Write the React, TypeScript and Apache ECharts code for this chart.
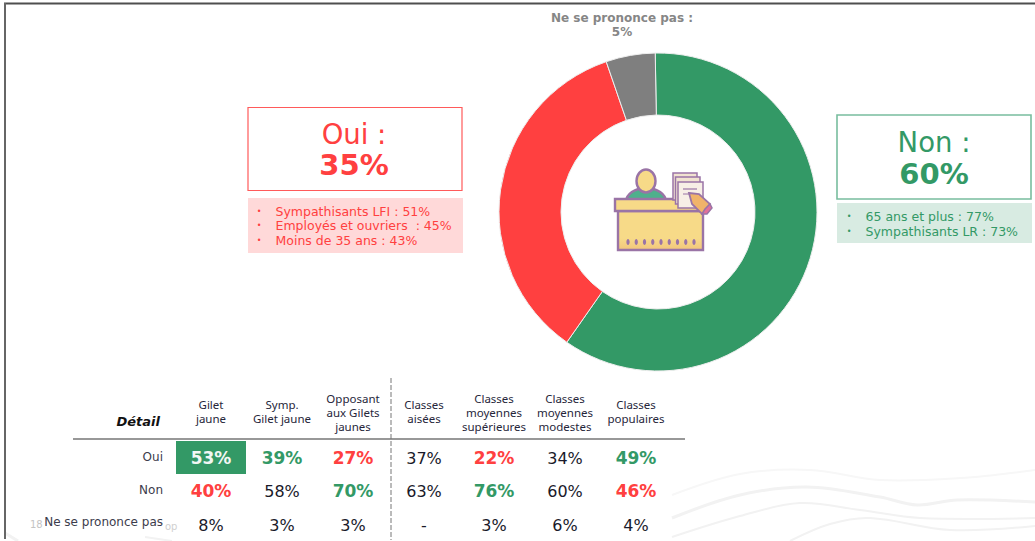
import React, { useEffect, useRef } from "react";
import * as echarts from "echarts";

const GREEN = "#339966";
const RED = "#ff4040";
const GREY = "#7f7f7f";
const INK = "#1a1a2a";

const sliceNames = ["Non", "Oui", "Ne se prononce pas"];
const sliceValues = [60, 35, 5];
const sliceColors = [GREEN, RED, GREY];

const ouiDetails = ["Sympathisants LFI : 51%", "Employés et ouvriers  : 45%", "Moins de 35 ans : 43%"];
const nonDetails = ["65 ans et plus : 77%", "Sympathisants LR : 73%"];

const columnHeaders = [
  ["Gilet", "jaune"],
  ["Symp.", "Gilet jaune"],
  ["Opposant", "aux Gilets", "jaunes"],
  ["Classes", "aisées"],
  ["Classes", "moyennes", "supérieures"],
  ["Classes", "moyennes", "modestes"],
  ["Classes", "populaires"],
];
const rowLabels = ["Oui", "Non", "Ne se prononce pas"];
const ouiRow = ["53%", "39%", "27%", "37%", "22%", "34%", "49%"];
const nonRow = ["40%", "58%", "70%", "63%", "76%", "60%", "46%"];
const npRow = ["8%", "3%", "3%", "-", "3%", "6%", "4%"];
// g = vert, r = rouge, w = blanc sur vert, n = neutre
const ouiTone = ["w", "g", "r", "n", "r", "n", "g"];
const nonTone = ["r", "n", "g", "n", "g", "n", "r"];
const npTone = ["n", "n", "n", "n", "n", "n", "n"];

const colX = [211, 282, 353, 424, 494, 565, 636];
const rowY = [458, 491, 525];
const SANS = '"DejaVu Sans"';
const HEAD = '"Noto Sans"';

function txt(text: string, x: number, y: number, fontSize: number, fill: string, opts: any = {}) {
  return {
    type: "text",
    silent: true,
    z: opts.z ?? 10,
    style: {
      text,
      x,
      y,
      fontSize,
      fill,
      fontFamily: opts.family ?? SANS,
      fontWeight: opts.weight ?? "normal",
      fontStyle: opts.italic ? "italic" : "normal",
      align: opts.align ?? "center",
      verticalAlign: "middle",
    },
  };
}

function wave(points: number[][], width: number, color = "#f2f2f2") {
  return {
    type: "polyline",
    silent: true,
    z: 1,
    shape: { points, smooth: 0.35 },
    style: { stroke: color, lineWidth: width, fill: "none" },
  };
}

function buildIcon() {
  const P = "#9a74a6";
  const Y = "#f7da88";
  const sw = 2.4;
  const r = (x: number, y: number, w: number, h: number, fill: any, lw = sw, stroke = P) => ({
    type: "rect", silent: true, z: 10,
    shape: { x, y, width: w, height: h },
    style: { fill, stroke, lineWidth: lw },
  });
  const dots = [628, 636.25, 644.5, 652.75, 661, 669.25, 677.5, 685.75, 694].map((x) => ({
    type: "ellipse", silent: true, z: 11,
    shape: { cx: x, cy: 242, rx: 1.6, ry: 3 },
    style: { fill: P },
  }));
  return [
    { type: "ellipse", silent: true, z: 10,
      shape: { cx: 646, cy: 202, rx: 20, ry: 14 },
      style: { fill: "#4fb08c", stroke: P, lineWidth: sw } },
    { type: "ellipse", silent: true, z: 11,
      shape: { cx: 646, cy: 181, rx: 9.5, ry: 11.5 },
      style: { fill: Y, stroke: P, lineWidth: sw } },
    r(618, 211, 85, 39, new echarts.graphic.LinearGradient(0, 0, 0, 1, [
      { offset: 0, color: Y }, { offset: 0.7, color: Y }, { offset: 1, color: "#f2c67c" },
    ])),
    r(615, 199, 86, 12, Y),
    r(673, 173, 24, 27, "#f1e3d0", 1.5),
    r(675.5, 177, 24.5, 27, "#f1e3d0", 1.5),
    r(678, 182, 25, 26, "#f7efe6", 1.5),
    { type: "line", silent: true, z: 11, shape: { x1: 683, y1: 189, x2: 697, y2: 189 }, style: { stroke: P, lineWidth: 1.2 } },
    { type: "line", silent: true, z: 11, shape: { x1: 683, y1: 194, x2: 690, y2: 194 }, style: { stroke: P, lineWidth: 1 } },
    ...dots,
    { type: "polygon", silent: true, z: 12,
      shape: { points: [[689, 193], [699, 194], [710, 204], [702, 214], [692, 204]] },
      style: { fill: "#f0b36a", stroke: P, lineWidth: 1.8 } },
    { type: "polygon", silent: true, z: 13,
      shape: { points: [[705, 209], [710, 204], [712, 208], [707, 214], [702, 214]] },
      style: { fill: "#e2709a", stroke: P, lineWidth: 1.5 } },
  ];
}

function buildGraphic() {
  const els: any[] = [];
  // fond : vagues
  els.push(wave([[672, 495], [740, 474], [810, 470], [880, 480], [960, 478], [1035, 470]], 2, "#f7f7f7"));
  els.push(wave([[672, 518], [740, 495], [807, 487], [880, 497], [917, 505], [957, 500], [1035, 502]], 3));
  els.push(wave([[672, 537], [740, 516], [800, 503], [860, 510], [920, 518], [1035, 518]], 2));
  els.push(wave([[790, 541], [830, 524], [870, 518], [950, 530], [1035, 526]], 2));
  els.push(wave([[5, 533], [18, 541]], 3));
  els.push(wave([[145, 537], [172, 541]], 2));
  // cadre
  els.push({ type: "line", silent: true, z: 2, shape: { x1: 4, y1: 3.5, x2: 1035, y2: 3.5 }, style: { stroke: "#4f4f4f", lineWidth: 1.8 } });
  els.push({ type: "line", silent: true, z: 2, shape: { x1: 5, y1: 3, x2: 5, y2: 539 }, style: { stroke: "#666", lineWidth: 2 } });

  // encadré Oui
  els.push({ type: "rect", silent: true, z: 5, shape: { x: 248, y: 107.5, width: 214, height: 83 }, style: { fill: "#fff", stroke: "#ff5a5a", lineWidth: 1.2 } });
  els.push(txt("Oui :", 354, 134, 27.5, RED));
  els.push(txt("35%", 354, 165, 29, RED, { weight: "bold" }));
  els.push({ type: "rect", silent: true, z: 5, shape: { x: 248, y: 198, width: 215, height: 55 }, style: { fill: "#ffd9d9" } });
  ouiDetails.forEach((t, i) => {
    const y = 211 + i * 14.5;
    els.push(txt("•", 259, y, 8, RED));
    els.push(txt(t, 275.5, y, 12.5, RED, { align: "left" }));
  });

  // encadré Non
  els.push({ type: "rect", silent: true, z: 5, shape: { x: 837, y: 115, width: 194, height: 84 }, style: { fill: "#fff", stroke: "#78bd9e", lineWidth: 1.6 } });
  els.push(txt("Non :", 934, 142, 27.5, GREEN));
  els.push(txt("60%", 934, 174, 29, GREEN, { weight: "bold" }));
  els.push({ type: "rect", silent: true, z: 5, shape: { x: 837, y: 203, width: 195, height: 40 }, style: { fill: "#d8ebe2" } });
  nonDetails.forEach((t, i) => {
    const y = 216 + i * 15;
    els.push(txt("•", 849, y, 8, GREEN));
    els.push(txt(t, 865.5, y, 12.5, GREEN, { align: "left" }));
  });

  els.push(...buildIcon());

  // tableau
  els.push(txt("Détail", 160, 421, 13, "#111", { weight: "bold", italic: true, align: "right" }));
  columnHeaders.forEach((lines, c) => {
    const y0 = lines.length === 3 ? 398 : 404.5;
    lines.forEach((l, i) => els.push(txt(l, colX[c], y0 + i * 14, 11.5, "#26263a", { family: HEAD })));
  });
  els.push({ type: "line", silent: true, z: 6, shape: { x1: 73, y1: 439, x2: 685, y2: 439 }, style: { stroke: "#333", lineWidth: 1.2 } });
  els.push({ type: "line", silent: true, z: 6, shape: { x1: 391, y1: 378, x2: 391, y2: 540 }, style: { stroke: "#777", lineWidth: 1, lineDash: [5, 2] } });
  els.push({ type: "rect", silent: true, z: 6, shape: { x: 176, y: 441, width: 70, height: 33 }, style: { fill: GREEN } });
  const toneColor: Record<string, string> = { g: GREEN, r: RED, w: "#f2f7f4", n: INK };
  [ouiRow, nonRow, npRow].forEach((row, r) => {
    const tones = [ouiTone, nonTone, npTone][r];
    els.push(txt(rowLabels[r], 163, rowY[r] - (r === 2 ? 3 : 1), 12, "#3c3c4c", { align: "right" }));
    row.forEach((v, c) => {
      const tone = tones[c];
      els.push(txt(v, colX[c], rowY[r], tone === "n" ? 16 : 17, toneColor[tone], { weight: tone === "n" ? "normal" : "bold" }));
    });
  });
  els.push(txt("18", 30, 524, 10, "#c4c4c4", { align: "left", z: 3 }));
  els.push(txt("op", 165, 526, 10, "#d0d0d0", { align: "left", z: 3 }));
  return els;
}

export default function App() {
  const ref = useRef<HTMLDivElement>(null);
  useEffect(() => {
    const chart = echarts.init(ref.current!, undefined, { renderer: "svg" });
    chart.setOption({
      animation: false,
      backgroundColor: "#ffffff",
      series: [
        {
          type: "pie",
          center: [658, 212],
          radius: [97, 159],
          startAngle: 91,
          clockwise: true,
          silent: true,
          itemStyle: { borderColor: "#eeeeee", borderWidth: 1 },
          labelLine: { show: false },
          data: sliceNames.map((name, i) => ({
            name,
            value: sliceValues[i],
            itemStyle: { color: sliceColors[i] },
            label:
              i === 2
                ? {
                    show: true,
                    position: "outside",
                    formatter: `${name} :\n${sliceValues[i]}%`,
                    fontFamily: SANS,
                    fontWeight: "bold",
                    fontSize: 12,
                    color: "#868686",
                    lineHeight: 14.5,
                    align: "center",
                  }
                : { show: false },
          })),
          labelLayout: { x: 622, y: 25, align: "center", verticalAlign: "middle" },
        },
      ],
      graphic: { elements: buildGraphic() },
    });
    return () => chart.dispose();
  }, []);
  return (
    <div style={{ position: "fixed", left: 0, top: 0, width: 1035, height: 541, background: "#fff" }}>
      <div ref={ref} style={{ width: 1035, height: 541 }} />
    </div>
  );
}
